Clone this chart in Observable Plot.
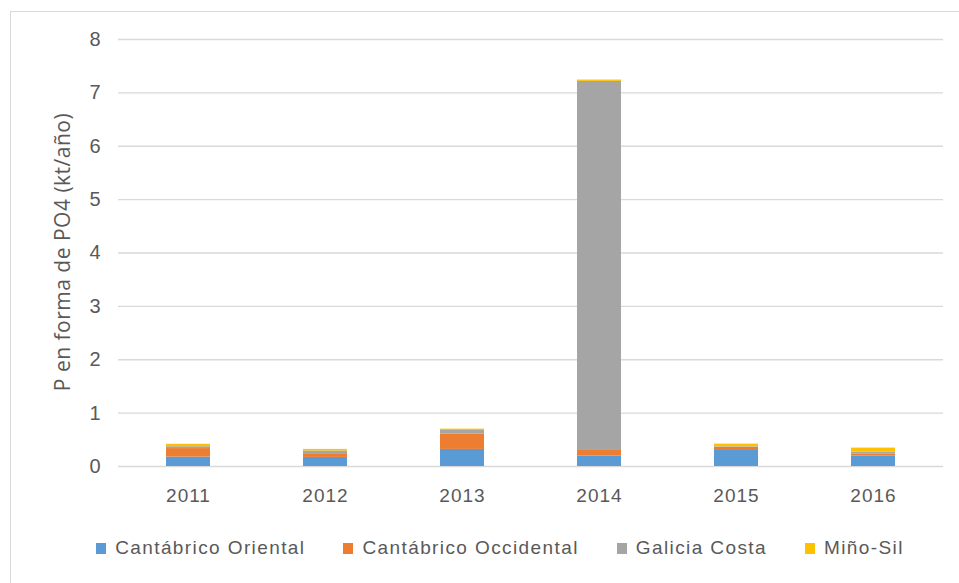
<!DOCTYPE html>
<html>
<head>
<meta charset="utf-8">
<script src="https://cdn.jsdelivr.net/npm/d3@7"></script>
<script src="https://cdn.jsdelivr.net/npm/@observablehq/plot@0.6"></script>
<style>
  html, body { margin: 0; padding: 0; background: #fff; }
  #wrap { position: relative; width: 959px; height: 583px; overflow: hidden; }
  #frame { position: absolute; left: 10px; top: 11px; width: 960px; height: 580px; border: 1px solid #d9d9d9; box-sizing: border-box; }
  #chart { position: absolute; left: 0; top: 0; }
  #ylabel { position: absolute; left: 62px; top: 252px; transform: translate(-50%, -50%) rotate(-90deg);
            white-space: nowrap; font-family: "Open Sans", sans-serif; font-size: 21px; color: #595959; letter-spacing: 0.5px; }
  #legend { position: absolute; left: 0; top: 537px; width: 1000px; display: flex; justify-content: center; gap: 38px;
            font-family: "Liberation Sans", sans-serif; font-size: 19px; color: #595959; letter-spacing: 1.4px; }
  .item { display: flex; align-items: center; }
  .sw { width: 10px; height: 11px; margin-right: 9px; }
</style>
</head>
<body>
<div id="wrap">
  <div id="frame"></div>
  <div id="chart"></div>
  <div id="ylabel"></div>
  <div id="legend"></div>
</div>
<script>
const years = ["2011", "2012", "2013", "2014", "2015", "2016"];
const seriesNames = ["Cantábrico Oriental", "Cantábrico Occidental", "Galicia Costa", "Miño-Sil"];
const cantabricoOriental   = [0.176, 0.17, 0.32, 0.195, 0.30, 0.195];
const cantabricoOccidental = [0.16, 0.07, 0.29, 0.12, 0.06, 0.035];
const galiciaCosta         = [0.035, 0.05, 0.065, 6.9, 0.01, 0.04];
const minoSil              = [0.045, 0.03, 0.025, 0.025, 0.05, 0.075];
const colors = ["#5B9BD5", "#ED7D31", "#A5A5A5", "#FFC000"];
const yTicks = [0, 1, 2, 3, 4, 5, 6, 7, 8];
const yTitle = "P en forma de PO4 (kt/año)";

const seriesValues = [cantabricoOriental, cantabricoOccidental, galiciaCosta, minoSil];
const data = [];
years.forEach((y, i) => {
  seriesNames.forEach((s, j) => {
    data.push({year: y, series: s, value: seriesValues[j][i]});
  });
});

const chart = Plot.plot({
  width: 959,
  height: 520,
  marginLeft: 118,
  marginRight: 16,
  marginTop: 39,
  marginBottom: 54,
  style: {fontFamily: "'Liberation Sans', sans-serif", fontSize: "19px", color: "#595959", background: "transparent", letterSpacing: "1px"},
  x: {domain: years, paddingInner: 0.68, paddingOuter: 0.34},
  y: {domain: [0, 8]},
  color: {domain: seriesNames, range: colors},
  marks: [
    Plot.gridY(yTicks, {stroke: "#d9d9d9", strokeOpacity: 1, strokeWidth: 1.3}),
    Plot.barY(data, {x: "year", y: "value", fill: "series", order: seriesNames}),
    Plot.axisY(yTicks, {tickSize: 0, tickPadding: 17, fontSize: 20, tickFormat: d3.format("d"), label: null}),
    Plot.axisX({tickSize: 0, tickPadding: 22, fontSize: 19, label: null})
  ]
});
document.getElementById("chart").appendChild(chart);
document.getElementById("ylabel").textContent = yTitle;

const legend = document.getElementById("legend");
seriesNames.forEach((s, i) => {
  const item = document.createElement("div");
  item.className = "item";
  const sw = document.createElement("div");
  sw.className = "sw";
  sw.style.background = colors[i];
  const label = document.createElement("span");
  label.textContent = s;
  item.appendChild(sw);
  item.appendChild(label);
  legend.appendChild(item);
});
</script>
</body>
</html>
